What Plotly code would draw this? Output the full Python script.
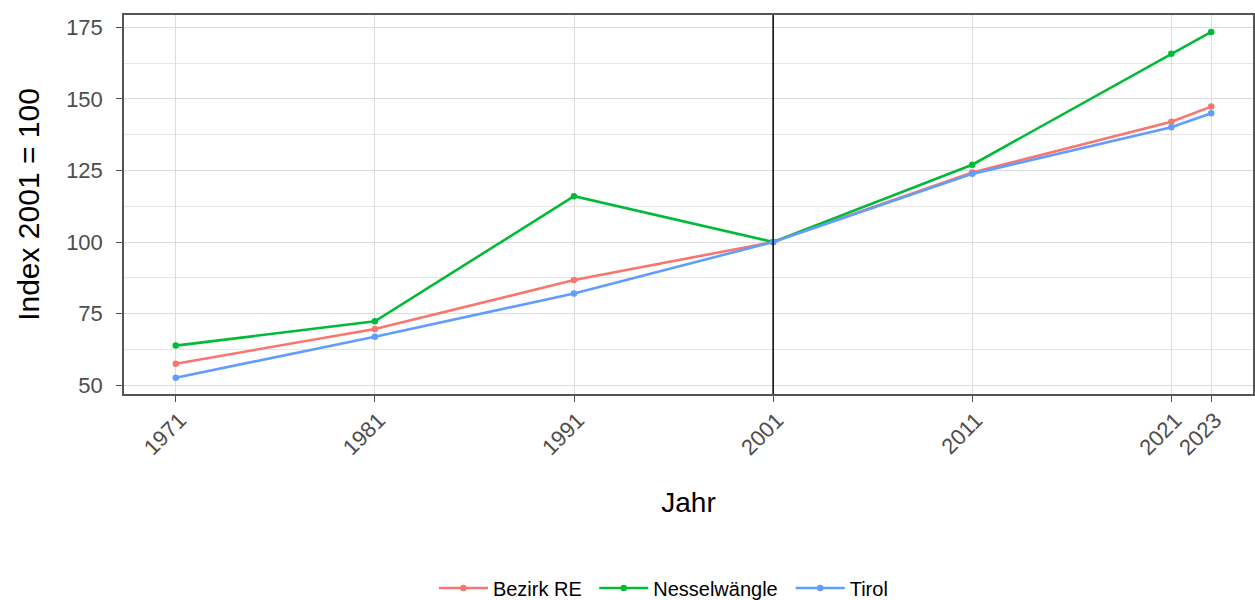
import plotly.graph_objects as go

years = [1971, 1981, 1991, 2001, 2011, 2021, 2023]
bezirk_re = [57.5, 69.6, 86.7, 100, 124.3, 142.0, 147.3]
nesselwaengle = [63.8, 72.3, 116.0, 100, 127.0, 165.8, 173.4]
tirol = [52.6, 66.9, 82.0, 100, 123.8, 140.1, 145.0]
series_names = ["Bezirk RE", "Nesselwängle", "Tirol"]
series_colors = ["#F8766D", "#00BA38", "#619CFF"]
reference_year = 2001
y_ticks = [50, 75, 100, 125, 150, 175]

legend_ids = ["legend", "legend2", "legend3"]
legend_x = [0.2745, 0.4165, 0.5905]

fig = go.Figure()
for name, vals, col, lg in zip(series_names, [bezirk_re, nesselwaengle, tirol], series_colors, legend_ids):
    fig.add_trace(go.Scatter(
        x=years, y=vals, name=name, mode="lines+markers",
        line=dict(color=col, width=2.6),
        marker=dict(color=col, size=6.5),
        legend=lg,
    ))

fig.add_vline(x=reference_year, line=dict(color="black", width=1.5), layer="above")

font_family = "Liberation Sans, Arial, sans-serif"
legend_style = dict(orientation="h", xanchor="left", y=-0.512, yanchor="middle",
                    font=dict(size=20, color="black"), itemwidth=49)
fig.update_layout(
    width=1255, height=600,
    paper_bgcolor="white", plot_bgcolor="white",
    margin=dict(l=124, r=2, t=15, b=206, autoexpand=False),
    font=dict(family=font_family, color="#222222"),
    showlegend=True,
    legend=dict(x=legend_x[0], **legend_style),
    legend2=dict(x=legend_x[1], **legend_style),
    legend3=dict(x=legend_x[2], **legend_style),
)
fig.update_xaxes(
    range=[1968.4, 2025.1], tickvals=years, ticktext=[str(y) for y in years],
    tickangle=-45, tickfont=dict(size=22, color="#4d4d4d"),
    ticks="outside", ticklen=6, tickcolor="#4d4d4d",
    ticklabelshift=4, ticklabelstandoff=-3,
    showgrid=True, gridcolor="#dcdcdc", gridwidth=1,
    showline=True, mirror=True, linecolor="#555555", linewidth=1.5,
    zeroline=False, automargin=False,
    title=dict(text="Jahr", font=dict(size=28, color="black"), standoff=33),
)
fig.update_yaxes(
    range=[46.9, 179.3], tickvals=y_ticks,
    tickfont=dict(size=22, color="#4d4d4d"),
    ticks="outside", ticklen=6, tickcolor="#4d4d4d", ticklabelstandoff=9,
    showgrid=True, gridcolor="#dcdcdc", gridwidth=1,
    minor=dict(dtick=12.5, tick0=0, showgrid=True, gridcolor="#e6e6e6", gridwidth=1),
    showline=True, mirror=True, linecolor="#555555", linewidth=1.5,
    zeroline=False, automargin=False,
    title=dict(text="Index 2001 = 100", font=dict(size=30, color="black"), standoff=18),
)

fig.write_html(
    "out.html",
    config={"displayModeBar": False},
    post_script="document.body.style.margin='0';document.body.style.overflow='hidden';",
)
